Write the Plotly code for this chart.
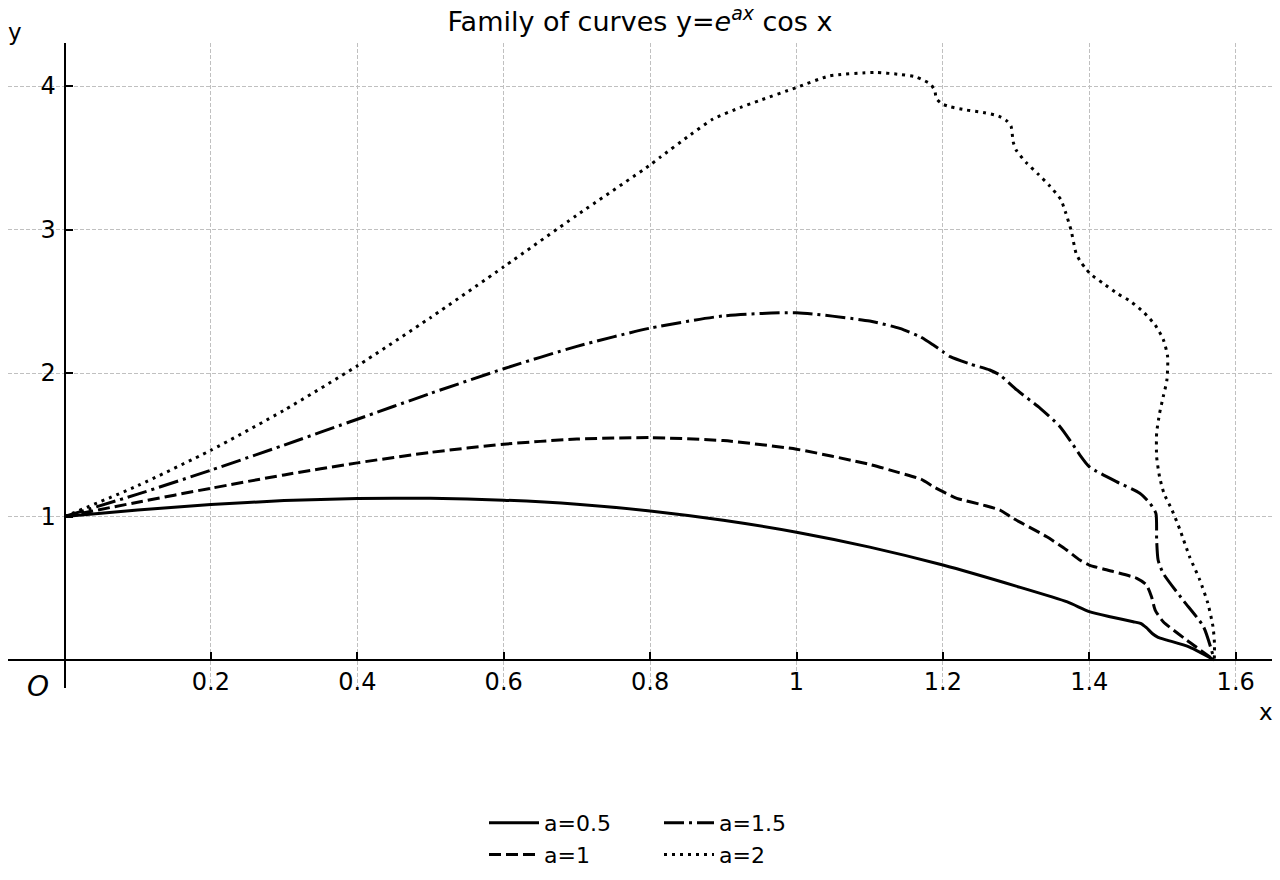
import plotly.graph_objects as go

# ---- data ----
x05 = [0, 0.1, 0.2, 0.3, 0.4, 0.5, 0.6, 0.7, 0.8, 0.9, 1.0, 1.1, 1.2, 1.3, 1.37, 1.4,
       1.43, 1.46, 1.47, 1.478, 1.486, 1.494, 1.506, 1.537, 1.5708]
y05 = [1.0, 1.046, 1.083, 1.111, 1.125, 1.127, 1.114, 1.086, 1.039, 0.974, 0.891, 0.787,
       0.662, 0.515, 0.405, 0.337, 0.300, 0.267, 0.255, 0.225, 0.185, 0.158, 0.139, 0.090, 0.0]

x1 = [0, 0.1, 0.2, 0.3, 0.4, 0.5, 0.6, 0.7, 0.8, 0.9, 1.0, 1.1, 1.14, 1.17, 1.187, 1.2,
      1.219, 1.255, 1.278, 1.296, 1.342, 1.369, 1.387, 1.4, 1.433, 1.465, 1.478, 1.485,
      1.49, 1.501, 1.533, 1.5708]
y1 = [1.0, 1.10, 1.197, 1.290, 1.374, 1.447, 1.504, 1.540, 1.550, 1.529, 1.469, 1.363,
      1.306, 1.26, 1.208, 1.173, 1.127, 1.080, 1.045, 0.987, 0.859, 0.767, 0.697, 0.662,
      0.616, 0.569, 0.523, 0.441, 0.348, 0.267, 0.139, 0.0]

x15 = [0, 0.1, 0.2, 0.3, 0.4, 0.5, 0.6, 0.7, 0.8, 0.9, 1.0, 1.1, 1.141, 1.169, 1.187,
       1.2, 1.21, 1.237, 1.264, 1.278, 1.301, 1.333, 1.36, 1.378, 1.387, 1.4, 1.437,
       1.469, 1.483, 1.491, 1.492, 1.494, 1.501, 1.528, 1.556, 1.5708]
y15 = [1.0, 1.156, 1.323, 1.498, 1.678, 1.858, 2.030, 2.186, 2.313, 2.398, 2.42, 2.362,
       2.311, 2.253, 2.195, 2.149, 2.114, 2.063, 2.021, 1.986, 1.882, 1.754, 1.626, 1.498,
       1.43, 1.347, 1.243, 1.162, 1.092, 1.022, 0.836, 0.697, 0.604, 0.418, 0.232, 0.0]

x2 = [0, 0.1, 0.2, 0.3, 0.4, 0.5, 0.6, 0.7, 0.8, 0.814, 0.855, 0.886, 0.923, 0.95, 1.0,
      1.045, 1.107, 1.141, 1.162, 1.173, 1.183, 1.189, 1.191, 1.199, 1.21, 1.232, 1.255,
      1.276, 1.286, 1.293, 1.296, 1.3, 1.314, 1.33, 1.346, 1.361, 1.368, 1.375, 1.382,
      1.388, 1.395, 1.402, 1.419, 1.438, 1.457, 1.475, 1.49, 1.501, 1.507, 1.506, 1.501,
      1.496, 1.492, 1.492, 1.496, 1.502, 1.513, 1.524, 1.537, 1.551, 1.562, 1.569, 1.571,
      1.5708]
y2 = [1.0, 1.215, 1.462, 1.741, 2.05, 2.386, 2.74, 3.10, 3.45, 3.505, 3.66, 3.77, 3.85,
      3.90, 3.99, 4.07, 4.095, 4.081, 4.065, 4.042, 4.014, 3.967, 3.914, 3.875, 3.856,
      3.833, 3.816, 3.791, 3.763, 3.721, 3.612, 3.554, 3.466, 3.387, 3.303, 3.21, 3.113,
      2.997, 2.834, 2.776, 2.729, 2.688, 2.625, 2.555, 2.497, 2.420, 2.334, 2.235, 2.114,
      1.951, 1.835, 1.719, 1.580, 1.417, 1.277, 1.162, 1.045, 0.906, 0.720, 0.557, 0.395,
      0.232, 0.116, 0.0]

labels = ["a=0.5", "a=1", "a=1.5", "a=2"]
xticks = [0.2, 0.4, 0.6, 0.8, 1.0, 1.2, 1.4, 1.6]
xticktext = ["0.2", "0.4", "0.6", "0.8", "1", "1.2", "1.4", "1.6"]
yticks = [1, 2, 3, 4]
yticktext = ["1", "2", "3", "4"]

XR = [-0.0772, 1.6496]
YR = [-0.195, 4.30]

series = [(x05, y05, "solid", "legend"),
          (x1, y1, "12px,5px", "legend"),
          (x15, y15, "20px,5px,3px,5px", "legend2"),
          (x2, y2, "3px,5px", "legend2")]

fig = go.Figure()
for (xs, ys, dash, lg), name in zip(series, labels):
    fig.add_trace(go.Scatter(x=xs, y=ys, mode="lines", name=name, legend=lg,
                             line=dict(color="black", width=3, dash=dash,
                                       shape="spline", smoothing=0.6)))

FONT = "DejaVu Sans, Arial, sans-serif"
GRID = "#c0c0c0"
LEG_Y = (880 - 802) / 880
fig.update_layout(
    width=1280, height=880,
    margin=dict(l=8, r=8, t=43, b=192, autoexpand=False),
    plot_bgcolor="white", paper_bgcolor="white",
    font=dict(family=FONT, color="black", size=24),
    title=dict(text="Family of curves y=<i>e</i><sup><i>ax</i></sup> cos x",
               x=0.5, xanchor="center", y=1 - 22 / 880, yanchor="middle",
               font=dict(size=27)),
    xaxis=dict(range=XR, tickvals=xticks, ticktext=xticktext, showgrid=True,
               gridcolor=GRID, griddash="4px,2px", gridwidth=1, zeroline=False,
               showline=True, linecolor="black", linewidth=2, ticks="inside",
               ticklen=7, tickwidth=1.5, tickcolor="black", anchor="free",
               position=(0 - YR[0]) / (YR[1] - YR[0]), automargin=False,
               tickfont=dict(size=24)),
    yaxis=dict(range=YR, tickvals=yticks, ticktext=yticktext, showgrid=True,
               gridcolor=GRID, griddash="4px,2px", gridwidth=1, zeroline=False,
               showline=True, linecolor="black", linewidth=2, ticks="inside",
               ticklen=7, tickwidth=1.5, tickcolor="black", anchor="free",
               position=(0 - XR[0]) / (XR[1] - XR[0]), automargin=False,
               tickfont=dict(size=24), ticklabelstandoff=3),
    legend=dict(x=(484 - 8) / 1264, y=LEG_Y, yref="container", xanchor="left",
                yanchor="top", font=dict(size=22), bgcolor="rgba(0,0,0,0)",
                itemwidth=50, tracegroupgap=0),
    legend2=dict(x=(659 - 8) / 1264, y=LEG_Y, yref="container", xanchor="left",
                 yanchor="top", font=dict(size=22), bgcolor="rgba(0,0,0,0)",
                 itemwidth=50, tracegroupgap=0),
    annotations=[
        dict(text="y", x=(15 - 8) / 1264, y=(688 - 32) / 645, xref="paper", yref="paper",
             showarrow=False, xanchor="center", yanchor="middle", font=dict(size=23)),
        dict(text="x", x=(1266 - 8) / 1264, y=(688 - 712) / 645, xref="paper", yref="paper",
             showarrow=False, xanchor="center", yanchor="middle", font=dict(size=23)),
        dict(text="<i>O</i>", x=(38 - 8) / 1264, y=(688 - 686) / 645, xref="paper",
             yref="paper", showarrow=False, xanchor="center", yanchor="middle",
             font=dict(size=28)),
    ],
)

fig.write_html("out.html")
